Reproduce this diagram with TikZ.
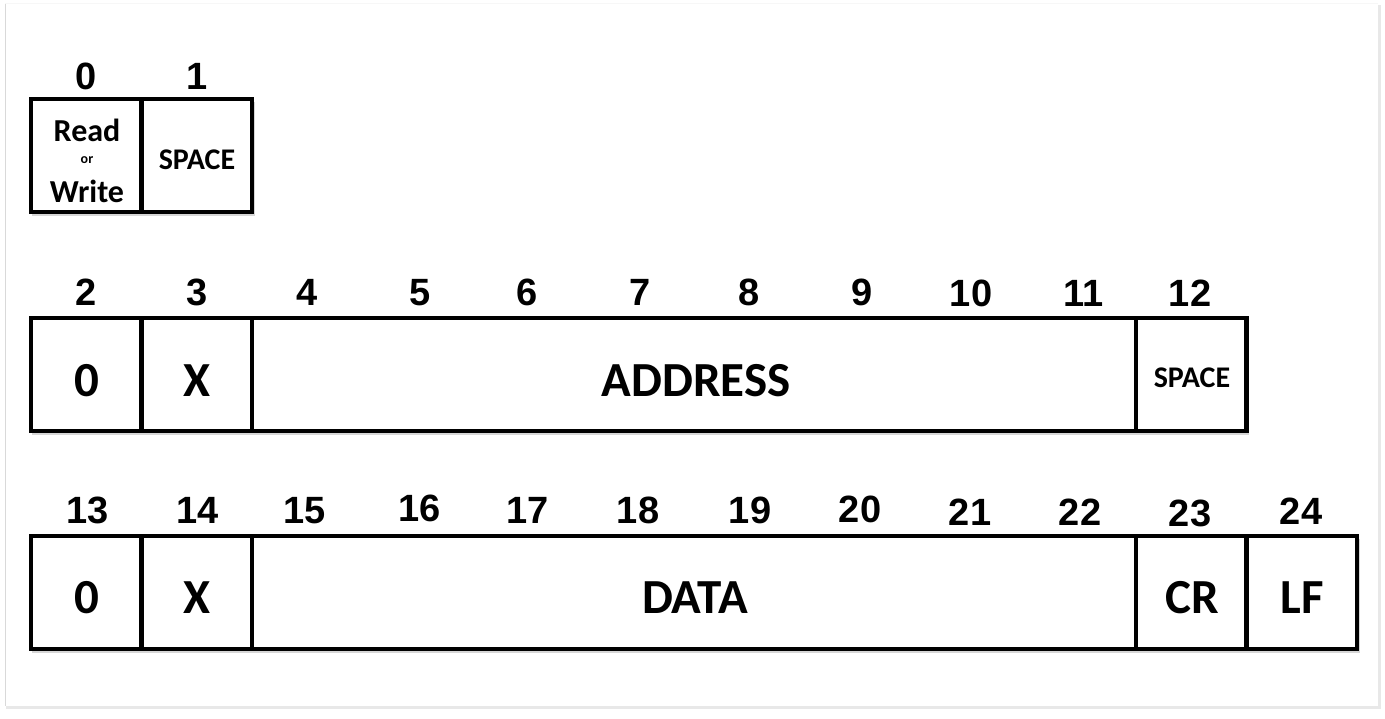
\documentclass[tikz,border=0pt]{standalone}
\usepackage{fontspec}
\setmainfont{Carlito}
\newfontfamily\digitfont{Liberation Sans}
\newcommand{\numtext}[1]{{\digitfont\bfseries\fontsize{38}{38}\selectfont #1}}
\begin{document}
\begin{tikzpicture}[x=1pt,y=-1pt,
  cell/.style={draw=black, line width=4.5pt, fill=white, inner sep=0pt, minimum height=113pt},
  shade/.style={fill=black, opacity=0.16},
  numlabel/.style={inner sep=0pt, anchor=base},
  big/.style={font=\bfseries\fontsize{49}{49}\selectfont, inner sep=0pt},
  mid/.style={font=\bfseries\fontsize{32}{32}\selectfont, inner sep=0pt},
  small/.style={font=\bfseries\fontsize{30}{30}\selectfont, inner sep=0pt},
  tiny/.style={font=\bfseries\fontsize{14}{14}\selectfont, inner sep=0pt}]
\useasboundingbox (0,0) rectangle (1385,718);
% frame
\fill[gray!18] (6,5) rectangle (1381,709);
\fill[white] (5,2) rectangle (1378,706);
\draw[gray!30, line width=1.5pt] (5.5,3) -- (5.5,706);
\draw[gray!6, line width=1pt] (5,3) -- (1378,3);
% shadows
\fill[shade] (32,102) rectangle (255,216);
\fill[shade] (32,321) rectangle (1249,435);
\fill[shade] (32,539) rectangle (1360,653);
% row 1
\node[cell, minimum width=110.6pt] (c0) at (86.3,155.5) {};
\node[cell, minimum width=110.6pt] (c1) at (196.9,155.5) {};
% row 2
\node[cell, minimum width=110.6pt] (c2) at (86.3,374.5) {};
\node[cell, minimum width=110.6pt] (c3) at (196.9,374.5) {};
\node[cell, minimum width=883.8pt] (caddr) at (694.1,374.5) {};
\node[cell, minimum width=110.6pt] (c12) at (1191.3,374.5) {};
% row 3
\node[cell, minimum width=110.6pt] (c13) at (86.3,592.5) {};
\node[cell, minimum width=110.6pt] (c14) at (196.9,592.5) {};
\node[cell, minimum width=883.8pt] (cdata) at (694.1,592.5) {};
\node[cell, minimum width=110.6pt] (c23) at (1191.3,592.5) {};
\node[cell, minimum width=110.6pt] (c24) at (1301.9,592.5) {};
% numbers (baselines)
\foreach \x/\y/\t in {86/89/0, 197/89/1,
  86/305/2, 197/305/3, 307/305/4, 420/305/5, 527/305/6, 640/305/7, 749/305/8, 862/305/9, 971/306/10, 1084/306/11, 1190/306/12,
  88/523/13, 198/523/14, 305/523/15, 420/521/16, 528/523/17, 638/523/18, 750/523/19, 860/522/20, 970/525/21, 1080/525/22, 1190/526/23, 1301/524/24}
  \node[numlabel] (n\t) at (\x,\y) {\numtext{\t}};
% texts
\node[mid] (tread) at (87,130) {Read};
\node[tiny] (tor) at (87,160) {or};
\node[mid] (twrite) at (87,191) {Write};
\node[small] (tsp1) at (197,160) {SPACE};
\node[big] (t0a) at (87,381) {0};
\node[big] (tXa) at (197,381) {X};
\node[big] (taddr) at (696,381) {ADDRESS};
\node[small] (tsp2) at (1192,378) {SPACE};
\node[big] (t0b) at (87,598) {0};
\node[big] (tXb) at (197,598) {X};
\node[big] (tdata) at (695,598) {DATA};
\node[big] (tcr) at (1192,598) {CR};
\node[big] (tlf) at (1302,598) {LF};
\end{tikzpicture}
\end{document}
